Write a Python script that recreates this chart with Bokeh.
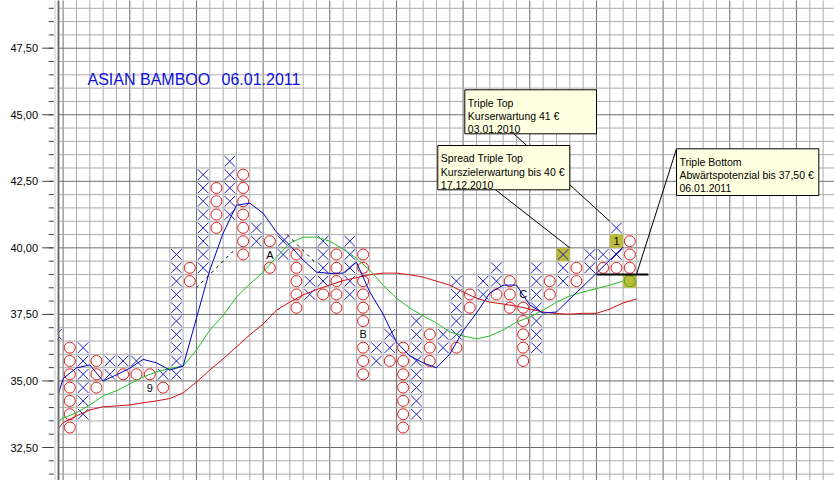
from bokeh.plotting import figure
from bokeh.models import Range1d
from bokeh.embed import file_html
from bokeh.resources import INLINE
from bokeh.core.properties import value

# ---------------------------------------------------------------------------
# Point & figure data, box size 0.50 EUR, one-box reversal
# runs of X boxes per column (lowest box, highest box)
x_col = [-1, 1, 3, 4, 5, 7, 8, 10, 12, 14, 16, 18, 19, 21,
         23, 24, 26, 28, 29, 31, 32, 34, 35, 37, 39, 40, 41]
x_low = [36.5, 33.5, 35.0, 35.5, 35.5, 35.0, 35.0, 39.0, 41.0, 40.0, 39.5, 38.0, 38.5, 38.0,
         35.5, 36.0, 33.5, 36.0, 36.5, 38.0, 38.5, 38.0, 36.0, 38.5, 39.0, 39.5, 39.5]
x_high = [36.5, 36.0, 35.5, 35.5, 35.5, 35.0, 39.5, 42.5, 43.0, 40.5, 40.0, 38.5, 40.0, 40.0,
          36.0, 36.5, 37.0, 36.5, 38.5, 38.5, 39.0, 38.0, 39.0, 39.5, 39.5, 39.5, 40.5]

# runs of O boxes per column (lowest box, highest box)
o_col = [0, 2, 4, 5, 6, 7, 9, 11, 13, 15, 17, 19, 20, 22,
         24, 25, 27, 29, 30, 32, 33, 34, 36, 38, 40, 41, 42]
o_low = [33.0, 34.5, 35.0, 35.0, 34.5, 34.5, 38.5, 40.5, 39.5, 39.0, 37.5, 38.0, 37.5, 35.0,
         35.5, 33.0, 35.5, 36.0, 37.5, 38.0, 37.5, 35.5, 38.0, 38.5, 39.0, 39.0, 38.5]
o_high = [36.0, 35.5, 35.0, 35.0, 35.0, 34.5, 39.0, 42.0, 42.5, 40.0, 39.5, 38.0, 39.5, 39.5,
          35.5, 36.0, 36.5, 36.0, 38.0, 38.0, 38.5, 37.5, 38.5, 39.0, 39.0, 39.0, 40.0]

# month markers written in place of a box (9 = Sep, A = Oct, B = Nov, C = Dec, 1 = Jan)
month_col = [6, 15, 22, 34, 41]
month_box = [34.5, 39.5, 36.5, 38.0, 40.0]
month_text = ["9", "A", "B", "C", "1"]

# signal boxes (highlighted)
sig_col = [37, 41, 42]
sig_box = [39.5, 40.0, 38.5]

# moving averages, one value per column, starting at column -2
ma_first_col = -2
ma_blue = [33.43, 35.09, 35.49, 35.60, 35.00, 35.23, 35.48, 35.81, 35.68, 35.41, 35.56,
           37.36, 39.16, 40.55, 41.60, 41.68, 41.30, 40.59, 40.10, 39.54, 39.09, 39.04,
           39.05, 39.46, 38.34, 37.51, 36.46, 35.94, 35.68, 35.49, 36.01, 36.88, 37.55,
           38.30, 38.60, 38.60, 37.85, 37.55, 37.59, 38.08, 38.56, 39.05, 39.54, 40.03]
ma_green = [33.28, 33.61, 33.80, 34.10, 34.44, 34.63, 34.89, 35.15, 35.34, 35.47, 35.56,
            36.16, 36.91, 37.46, 38.15, 38.64, 39.09, 39.65, 40.18, 40.40, 40.40, 40.25,
            39.95, 39.61, 39.16, 38.60, 38.11, 37.74, 37.44, 37.18, 36.84, 36.69, 36.58,
            36.69, 36.91, 37.21, 37.40, 37.66, 37.96, 38.19, 38.34, 38.47, 38.60, 38.75]
ma_red = [32.86, 33.43, 33.69, 33.91, 34.03, 34.06, 34.10, 34.18, 34.25, 34.34, 34.55,
          34.96, 35.41, 35.83, 36.28, 36.73, 37.14, 37.66, 37.96, 38.23, 38.43, 38.60,
          38.77, 38.88, 38.99, 39.05, 39.05, 38.99, 38.90, 38.75, 38.60, 38.34, 38.11,
          37.96, 37.89, 37.81, 37.70, 37.59, 37.53, 37.51, 37.54, 37.54, 37.70, 37.93, 38.08]

# 45 degree trend lines (column, price)
bull_x = [9.5, 12.25]
bull_y = [38.5, 39.875]
bear_x = [16.3, 18.5]
bear_y = [40.5, 39.4]

# triple bottom breakdown level
breakdown_x = [39.5, 43.4]
breakdown_y = [39.0, 39.0]

# price axis
y_ticks = [32.5, 35.0, 37.5, 40.0, 42.5, 45.0, 47.5]
y_labels = [f"{v:.2f}".replace(".", ",") for v in y_ticks]

title_name = "ASIAN BAMBOO"
title_date = "06.01.2011"

notes = [
    (["Triple Top", "Kurserwartung 41 €", "03.01.2010"], (40.5, 41.0)),
    (["Spread Triple Top", "Kurszielerwartung bis 40 €", "17.12.2010"], (37.5, 40.0)),
    (["Triple Bottom", "Abwärtspotenzial bis 37,50 €", "06.01.2011"], (42.5, 39.0)),
]

# ---------------------------------------------------------------------------
BOX = 0.5
W, H = 834, 480
COL0_PX, COL_W = 69.3, 13.333         # pixel centre of column 0, column width
P_REF, P_REF_PX, UNIT_PX = 47.5, 47.7, 26.62
FRAME_LEFT = 57.5


def dx(px):
    return (px - COL0_PX) / COL_W


def dy(py):
    return P_REF - (py - P_REF_PX) / UNIT_PX


p = figure(width=W, height=H, x_range=Range1d(dx(0), dx(W)), y_range=Range1d(dy(H), dy(0)),
           output_backend="svg", toolbar_location=None, x_axis_type=None, y_axis_type=None,
           min_border=0)
p.outline_line_color = None
p.background_fill_color = "white"
p.border_fill_color = "white"

FONT = value("Liberation Sans")

# grid: one cell per box, darker line every five boxes
gx0, gx1, gy0, gy1, gc = [], [], [], [], []
for k in range(-1, 58):
    b = k - 0.5
    gx0.append(b); gx1.append(b); gy0.append(dy(H) - 1); gy1.append(dy(0) + 1)
    gc.append("#6e6e6e" if k % 5 == 0 else "#acacac")
lv = 31.0
while lv <= 49.5:
    gx0.append(dx(FRAME_LEFT)); gx1.append(dx(W) + 1); gy0.append(lv); gy1.append(lv)
    gc.append("#6e6e6e" if abs(lv / 2.5 - round(lv / 2.5)) < 1e-9 else "#acacac")
    lv += BOX
p.segment(x0=gx0, y0=gy0, x1=gx1, y1=gy1, line_color=gc, line_width=1)

# highlighted signal boxes
p.quad(left=[c - 0.5 for c in sig_col], right=[c + 0.5 for c in sig_col],
       bottom=sig_box, top=[v + BOX for v in sig_box],
       fill_color="#bcbc3a", line_color=None)

month_set = {(c, v) for c, v in zip(month_col, month_box)}
sig_set = {(c, v) for c, v in zip(sig_col, sig_box)}


def expand(cols, lows, highs):
    xs, ys, flags = [], [], []
    for c, lo, hi in zip(cols, lows, highs):
        n = int(round((hi - lo) / BOX)) + 1
        for k in range(n):
            v = lo + k * BOX
            if (c, v) in month_set:
                continue
            xs.append(c)
            ys.append(v + BOX / 2)
            flags.append((c, v) in sig_set)
    return xs, ys, flags


xx, xy, _ = expand(x_col, x_low, x_high)
ox, oy, of = expand(o_col, o_low, o_high)

p.scatter(xx, xy, marker="x", size=15, line_color="#1c1cc4", line_width=1)
o_colors = ["#4aa22c" if f else "#dc2020" for f in of]
p.scatter(ox, oy, marker="circle", size=11, fill_color=None, line_color=o_colors, line_width=1)

p.text(month_col, [v + BOX / 2 for v in month_box], text=month_text, text_font=FONT,
       text_font_size=value("11px"), text_color="black", text_align="center",
       text_baseline="middle")

# moving averages (plotted at the right edge of each column)
for series, color in ((ma_red, "#d01010"), (ma_green, "#22c022"), (ma_blue, "#0000c0")):
    xs = [ma_first_col + i + 0.5 for i in range(len(series))]
    p.line(xs, series, line_color=color, line_width=1)

# trend lines and breakdown level
p.line(bull_x, bull_y, line_color="black", line_width=1, line_dash="3 4")
p.line(bear_x, bear_y, line_color="black", line_width=1, line_dash="3 4")
p.line(breakdown_x, breakdown_y, line_color="black", line_width=2)

# mask for the price axis area
p.quad(left=[dx(0) - 1], right=[dx(FRAME_LEFT)], bottom=[dy(H) - 1], top=[dy(0) + 1],
       fill_color="white", line_color=None)
p.segment(x0=[dx(54.5)], y0=[dy(H) - 1], x1=[dx(54.5)], y1=[dy(0) + 1],
          line_color="#c8c8c8", line_width=1)
p.segment(x0=[dx(58)], y0=[dy(H) - 1], x1=[dx(58)], y1=[dy(0) + 1],
          line_color="#707070", line_width=2)

# price ticks and labels
mt = [31.5 + BOX * i for i in range(36)]
p.segment(x0=[dx(48.3)] * len(mt), y0=mt, x1=[dx(53.3)] * len(mt), y1=mt,
          line_color="#404040", line_width=1)
p.segment(x0=[dx(41.7)] * len(y_ticks), y0=y_ticks, x1=[dx(52.5)] * len(y_ticks), y1=y_ticks,
          line_color="#404040", line_width=1)
p.text([dx(37.5)] * len(y_ticks), y_ticks, text=y_labels, text_font=FONT,
       text_font_size=value("11px"), text_color="black", text_align="right",
       text_baseline="alphabetic")

# title
p.text([dx(87)], [dy(78.5)], text=[title_name], text_font=FONT, text_font_size=value("16px"),
       text_color="#1010dc", text_align="left", text_baseline="alphabetic")
p.text([dx(221)], [dy(78.5)], text=[title_date], text_font=FONT, text_font_size=value("16px"),
       text_color="#1010dc", text_align="left", text_baseline="alphabetic")

# pattern call-outs
boxes_px = [(464.3, 89.3, 596.0, 133.3), (437.3, 145.0, 569.3, 189.3), (676.0, 148.3, 818.3, 195.0)]
anchors_px = [(513.3, 133.3), (495.0, 189.3), (676.0, 148.3)]
for (ax, ay), (_, (tx, ty)) in zip(anchors_px, notes):
    p.segment(x0=[dx(ax)], y0=[dy(ay)], x1=[tx], y1=[ty], line_color="black", line_width=1)
for (l, t, r, b), (lines, _) in zip(boxes_px, notes):
    p.quad(left=[dx(l)], right=[dx(r)], top=[dy(t)], bottom=[dy(b)],
           fill_color="#ffffe1", line_color="black", line_width=1)
    p.text([dx(l + 3)] * 3, [dy(t + 12.7), dy(t + 26.0), dy(t + 39.3)], text=lines,
           text_font=FONT, text_font_size=value("10.5px"), text_color="black",
           text_align="left", text_baseline="alphabetic")

open("out.html", "w").write(file_html(p, INLINE))
